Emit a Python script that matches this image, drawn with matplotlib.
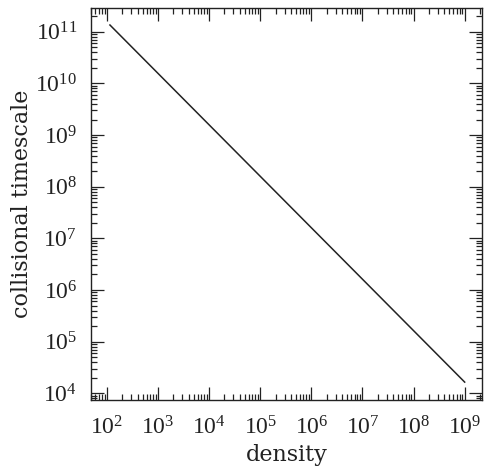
import numpy as np
import matplotlib
matplotlib.use("Agg")
import matplotlib.pyplot as plt
from matplotlib.ticker import LogLocator, LogFormatterMathtext, NullFormatter

# collisional timescale vs. density (t ~ 1/n)
density = [1.15e2, 1.0e9]
timescale = [1.35e11, 1.65e4]

ink = "#222222"
plt.rcParams["font.family"] = "Liberation Serif"
plt.rcParams["mathtext.fontset"] = "custom"
plt.rcParams["mathtext.rm"] = "Liberation Serif"

fig = plt.figure(figsize=(4.84, 4.69), dpi=100)
ax = fig.add_axes([0.188, 0.147, 0.808, 0.836])

ax.plot(density, timescale, color=ink, lw=1.1)

ax.set_xscale("log")
ax.set_yscale("log")
ax.set_xlim(10**1.69, 10**9.34)
ax.set_ylim(10**3.87, 10**11.46)

for axis in (ax.xaxis, ax.yaxis):
    axis.set_major_locator(LogLocator(base=10, numticks=20))
    axis.set_minor_locator(LogLocator(base=10, subs=np.arange(2, 10), numticks=20))
    axis.set_major_formatter(LogFormatterMathtext())
    axis.set_minor_formatter(NullFormatter())

ax.tick_params(which="both", direction="in", top=True, right=True,
               width=0.9, color=ink, labelcolor=ink)
ax.tick_params(which="major", length=9.5, labelsize=17)
ax.tick_params(axis="x", which="major", pad=12)
ax.tick_params(axis="y", which="major", pad=10)
ax.tick_params(which="minor", length=4)
for s in ax.spines.values():
    s.set_linewidth(1.0)
    s.set_color(ink)

ax.set_xlabel("density", fontsize=16, family="DejaVu Serif", color=ink, labelpad=3)
ax.set_ylabel("collisional timescale", fontsize=16, family="DejaVu Serif",
              color=ink, labelpad=2)

fig.savefig("out.png", dpi=100)
